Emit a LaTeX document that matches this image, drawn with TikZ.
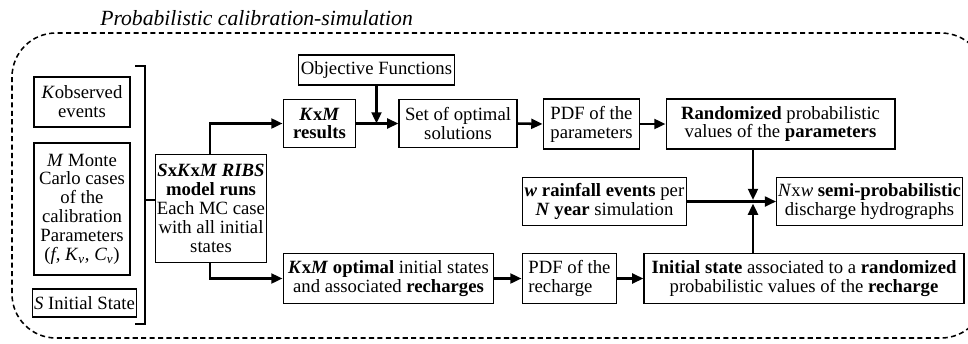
\documentclass[tikz,border=0pt]{standalone}
\usepackage{fontspec}
\setmainfont{Liberation Serif}
\usetikzlibrary{arrows.meta,calc}
\tikzset{
  box/.style={rectangle,draw=black,line width=0.8pt,align=center,inner sep=1pt,font=\fontsize{13.3}{13.4}\selectfont},
  arrow/.style={-{Triangle[length=8pt,width=7pt]},line width=1.8pt},
  bracket/.style={line width=1.8pt},
  frame/.style={dashed,dash pattern=on 3.6pt off 2.4pt,line width=1.1pt,rounded corners=1.1cm},
  heading/.style={font=\fontsize{15.4}{16}\selectfont\itshape,anchor=west,inner sep=0pt}
}

\begin{document}
\begin{tikzpicture}[x=0.025cm,y=-0.025cm]
  \useasboundingbox (0,0) rectangle (968,343);
  % outer frame and title
  \draw[frame] (12,33) rectangle (985,338);
  \node[heading] (title) at (100,18) {Probabilistic calibration-simulation};

  % inputs
  \node[box,minimum width=2.4cm,minimum height=1.25cm] (kobs) at (82,102) {\textit{K\/}observed\\events};
  \node[box,minimum width=2.4cm,minimum height=3.3cm] (mcar) at (82,209) {\textit{M} Monte\\Carlo cases\\of the\\calibration\\Parameters\\(\textit{f}, \textit{K}\textsubscript{\textit{v}}, \textit{C}\textsubscript{\textit{v}})};
  \node[box,minimum width=2.52cm,minimum height=0.7cm] (sini) at (84.5,303) {\textit{S} Initial State};
  \draw[bracket] (135,66) -- (145,66) -- (145,324) -- (135,324);
  \coordinate (brk) at (145,200);

  % model runs
  \node[box,minimum width=2.7cm,minimum height=2.68cm] (ribs) at (211,208.5) {\textbf{\textit{S}x\textit{K}x\textit{M} \textit{RIBS}}\\\textbf{model runs}\\Each MC case\\with all initial\\states};
  \draw[bracket] (brk) -- (brk -| ribs.west);

  % upper branch
  \node[box,minimum width=3.92cm,minimum height=0.75cm] (objf) at (376.5,70) {Objective Functions};
  \node[box,minimum width=1.82cm,minimum height=1.22cm] (kres) at (319.5,123.5) {\textbf{\textit{K}x\textit{M}}\\\textbf{results}};
  \node[box,minimum width=2.95cm,minimum height=1.22cm] (sopt) at (458,123.5) {Set of optimal\\solutions};
  \node[box,minimum width=2.42cm,minimum height=1.25cm] (pdfp) at (591.5,124) {PDF of the\\parameters};
  \node[box,minimum width=5.72cm,minimum height=1.25cm] (rand) at (780.5,124) {\textbf{Randomized} probabilistic\\values of the \textbf{parameters}};

  % simulation
  \node[box,minimum width=4.12cm,minimum height=1.22cm] (rain) at (604.5,201.5) {\textbf{\textit{w} rainfall events} per\\\textbf{\textit{N} year} simulation};
  \node[box,minimum width=4.62cm,minimum height=1.22cm] (nxw) at (869.5,201.5) {\textit{N}x\textit{w} \textbf{semi-probabilistic}\\discharge hydrographs};
  \coordinate (jn) at (753,201.5);

  % lower branch
  \node[box,minimum width=5.27cm,minimum height=1.27cm] (kopt) at (388.5,278.5) {\textbf{\textit{K}x\textit{M} optimal} initial states\\and associated \textbf{recharges}};
  \node[box,minimum width=2.37cm,minimum height=1.27cm,align=left] (pdfr) at (569.5,278.5) {PDF of the\\recharge};
  \node[box,minimum width=8cm,minimum height=1.27cm] (inis) at (804,278.5) {\textbf{Initial state} associated to a \textbf{randomized}\\probabilistic values of the \textbf{recharge}};

  % connectors
  \draw[arrow] (ribs.north -| 210,0) |- (kres.west);
  \draw[arrow] (ribs.south -| 210,0) |- (kopt.west);
  \draw[arrow] (kres.east) -- (sopt.west);
  \draw[arrow] (objf.south) -- (objf.south |- kres.east);
  \draw[arrow] (sopt.east) -- (pdfp.west);
  \draw[arrow] (pdfp.east) -- (rand.west);
  \draw[arrow] (jn |- rand.south) -- ($(jn)+(0,-1.5)$);
  \draw[arrow] (rain.east) -- (nxw.west);
  \draw[arrow] (jn |- inis.north) -- ($(jn)+(0,2)$);
  \draw[arrow] (kopt.east) -- (pdfr.west);
  \draw[arrow] (pdfr.east) -- (inis.west);
\end{tikzpicture}
\end{document}
